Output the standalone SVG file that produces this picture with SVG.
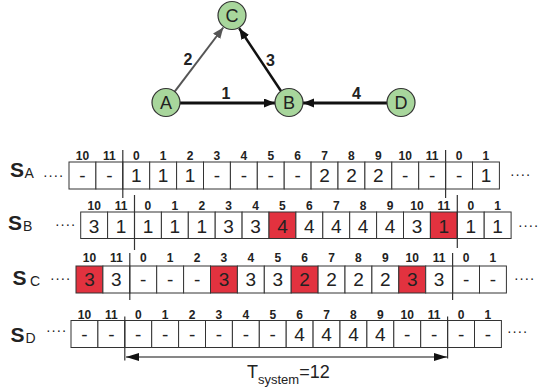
<svg xmlns="http://www.w3.org/2000/svg" width="540" height="387" viewBox="0 0 540 387">
<style>
text{font-family:"Liberation Sans",Arial,sans-serif;fill:#222}
.node{fill:#a8d69c;stroke:#333;stroke-width:1.2}
.nl{font-size:18px;text-anchor:middle}
.el{font-size:16px;font-weight:bold;text-anchor:middle}
.cell{fill:#fff;stroke:#333;stroke-width:1}
.red{fill:#e2323f}
.v{font-size:19px;text-anchor:middle}
.i{font-size:12px;font-weight:bold;text-anchor:middle}
.sep{stroke:#333;stroke-width:1.2}
.S{font-size:21px;font-weight:bold}
.sub{font-size:14px}
.dots{font-size:14px;letter-spacing:0.6px}
</style>
<defs>
<marker id="ah" markerUnits="userSpaceOnUse" markerWidth="12" markerHeight="10" refX="11" refY="4.5" orient="auto"><path d="M0,0 L11,4.5 L0,9 z" fill="#111"/></marker>
<marker id="ahg" markerUnits="userSpaceOnUse" markerWidth="12" markerHeight="10" refX="11" refY="4.5" orient="auto"><path d="M0,0 L11,4.5 L0,9 z" fill="#555"/></marker>
<marker id="dh" markerUnits="userSpaceOnUse" markerWidth="14" markerHeight="10" refX="13" refY="4" orient="auto-start-reverse"><path d="M0,0 L13,4 L0,8 z" fill="#111"/></marker>
</defs>
<g id="connectors">
<line x1="180" y1="103" x2="275" y2="103" stroke="#111" stroke-width="3" marker-end="url(#ah)"/>
<line x1="387" y1="103" x2="303" y2="103" stroke="#111" stroke-width="3" marker-end="url(#ah)"/>
<line x1="173.9" y1="92.7" x2="223.3" y2="27.5" stroke="#555" stroke-width="2" marker-end="url(#ahg)"/>
<line x1="281.8" y1="92.2" x2="239.2" y2="28.3" stroke="#111" stroke-width="2.5" marker-end="url(#ah)"/>
<text class="el" x="226" y="99">1</text>
<text class="el" x="188" y="65">2</text>
<text class="el" x="270.5" y="66">3</text>
<text class="el" x="356.5" y="99">4</text>
</g>
<g id="node-C"><circle class="node" cx="232" cy="15.5" r="14"/><text class="nl" x="232" y="22">C</text></g>
<g id="node-A"><circle class="node" cx="166" cy="102.5" r="14"/><text class="nl" x="166" y="109">A</text></g>
<g id="node-B"><circle class="node" cx="289" cy="102.5" r="14"/><text class="nl" x="289" y="109">B</text></g>
<g id="node-D"><circle class="node" cx="401" cy="102.5" r="14"/><text class="nl" x="401" y="109">D</text></g>

<g id="label-SA"><text class="S" x="10" y="177">S</text><text class="sub" x="24.5" y="178">A</text><text class="dots" x="43" y="180">····</text><text class="dots" x="510" y="179">····</text></g>
<g id="label-SB"><text class="S" x="8" y="230">S</text><text class="sub" x="23" y="231">B</text><text class="dots" x="55" y="229">····</text><text class="dots" x="518" y="230">····</text></g>
<g id="label-SC"><text class="S" x="12.5" y="285">S</text><text class="sub" x="30" y="286">C</text><text class="dots" x="50" y="283">····</text><text class="dots" x="514" y="283">····</text></g>
<g id="label-SD"><text class="S" x="10.5" y="342">S</text><text class="sub" x="25.5" y="343">D</text><text class="dots" x="46" y="335">····</text><text class="dots" x="507" y="336">····</text></g>

<g id="row-A" transform="translate(69,162)">
<rect class="cell" x="0" y="0" width="26.9" height="27"/><rect class="cell" x="26.9" y="0" width="26.9" height="27"/><rect class="cell" x="53.8" y="0" width="26.9" height="27"/><rect class="cell" x="80.7" y="0" width="26.9" height="27"/><rect class="cell" x="107.6" y="0" width="26.9" height="27"/><rect class="cell" x="134.5" y="0" width="26.9" height="27"/><rect class="cell" x="161.4" y="0" width="26.9" height="27"/><rect class="cell" x="188.3" y="0" width="26.9" height="27"/><rect class="cell" x="215.2" y="0" width="26.9" height="27"/><rect class="cell" x="242.1" y="0" width="26.9" height="27"/><rect class="cell" x="269" y="0" width="26.9" height="27"/><rect class="cell" x="295.9" y="0" width="26.9" height="27"/><rect class="cell" x="322.8" y="0" width="26.9" height="27"/><rect class="cell" x="349.7" y="0" width="26.9" height="27"/><rect class="cell" x="376.6" y="0" width="26.9" height="27"/><rect class="cell" x="403.5" y="0" width="26.9" height="27"/>
<text class="v" x="13.45" y="20">-</text><text class="v" x="40.35" y="20">-</text><text class="v" x="67.25" y="20">1</text><text class="v" x="94.15" y="20">1</text><text class="v" x="121.05" y="20">1</text><text class="v" x="147.95" y="20">-</text><text class="v" x="174.85" y="20">-</text><text class="v" x="201.75" y="20">-</text><text class="v" x="228.65" y="20">-</text><text class="v" x="255.55" y="20">2</text><text class="v" x="282.45" y="20">2</text><text class="v" x="309.35" y="20">2</text><text class="v" x="336.25" y="20">-</text><text class="v" x="363.15" y="20">-</text><text class="v" x="390.05" y="20">-</text><text class="v" x="416.95" y="20">1</text>
<text class="i" x="13.45" y="-2">10</text><text class="i" x="40.35" y="-2">11</text><text class="i" x="67.25" y="-2">0</text><text class="i" x="94.15" y="-2">1</text><text class="i" x="121.05" y="-2">2</text><text class="i" x="147.95" y="-2">3</text><text class="i" x="174.85" y="-2">4</text><text class="i" x="201.75" y="-2">5</text><text class="i" x="228.65" y="-2">6</text><text class="i" x="255.55" y="-2">7</text><text class="i" x="282.45" y="-2">8</text><text class="i" x="309.35" y="-2">9</text><text class="i" x="336.25" y="-2">10</text><text class="i" x="363.15" y="-2">11</text><text class="i" x="390.05" y="-2">0</text><text class="i" x="416.95" y="-2">1</text>
<line class="sep" x1="53.8" y1="-12" x2="53.8" y2="36"/><line class="sep" x1="376.6" y1="-12" x2="376.6" y2="36"/>
</g>

<g id="row-B" transform="translate(80.7,212)">
<rect class="cell" x="0" y="0" width="26.9" height="26.5"/><rect class="cell" x="26.9" y="0" width="26.9" height="26.5"/><rect class="cell" x="53.8" y="0" width="26.9" height="26.5"/><rect class="cell" x="80.7" y="0" width="26.9" height="26.5"/><rect class="cell" x="107.6" y="0" width="26.9" height="26.5"/><rect class="cell" x="134.5" y="0" width="26.9" height="26.5"/><rect class="cell" x="161.4" y="0" width="26.9" height="26.5"/><rect class="cell red" x="188.3" y="0" width="26.9" height="26.5"/><rect class="cell" x="215.2" y="0" width="26.9" height="26.5"/><rect class="cell" x="242.1" y="0" width="26.9" height="26.5"/><rect class="cell" x="269" y="0" width="26.9" height="26.5"/><rect class="cell" x="295.9" y="0" width="26.9" height="26.5"/><rect class="cell" x="322.8" y="0" width="26.9" height="26.5"/><rect class="cell red" x="349.7" y="0" width="26.9" height="26.5"/><rect class="cell" x="376.6" y="0" width="26.9" height="26.5"/><rect class="cell" x="403.5" y="0" width="26.9" height="26.5"/>
<text class="v" x="13.45" y="20.5">3</text><text class="v" x="40.35" y="20.5">1</text><text class="v" x="67.25" y="20.5">1</text><text class="v" x="94.15" y="20.5">1</text><text class="v" x="121.05" y="20.5">1</text><text class="v" x="147.95" y="20.5">3</text><text class="v" x="174.85" y="20.5">3</text><text class="v" x="201.75" y="20.5">4</text><text class="v" x="228.65" y="20.5">4</text><text class="v" x="255.55" y="20.5">4</text><text class="v" x="282.45" y="20.5">4</text><text class="v" x="309.35" y="20.5">4</text><text class="v" x="336.25" y="20.5">3</text><text class="v" x="363.15" y="20.5">1</text><text class="v" x="390.05" y="20.5">1</text><text class="v" x="416.95" y="20.5">1</text>
<text class="i" x="13.45" y="-2">10</text><text class="i" x="40.35" y="-2">11</text><text class="i" x="67.25" y="-2">0</text><text class="i" x="94.15" y="-2">1</text><text class="i" x="121.05" y="-2">2</text><text class="i" x="147.95" y="-2">3</text><text class="i" x="174.85" y="-2">4</text><text class="i" x="201.75" y="-2">5</text><text class="i" x="228.65" y="-2">6</text><text class="i" x="255.55" y="-2">7</text><text class="i" x="282.45" y="-2">8</text><text class="i" x="309.35" y="-2">9</text><text class="i" x="336.25" y="-2">10</text><text class="i" x="363.15" y="-2">11</text><text class="i" x="390.05" y="-2">0</text><text class="i" x="416.95" y="-2">1</text>
<line class="sep" x1="53.8" y1="-17" x2="53.8" y2="38"/><line class="sep" x1="376.6" y1="-17" x2="376.6" y2="36"/>
</g>

<g id="row-C" transform="translate(76,266)">
<rect class="cell red" x="0" y="0" width="26.9" height="27"/><rect class="cell" x="26.9" y="0" width="26.9" height="27"/><rect class="cell" x="53.8" y="0" width="26.9" height="27"/><rect class="cell" x="80.7" y="0" width="26.9" height="27"/><rect class="cell" x="107.6" y="0" width="26.9" height="27"/><rect class="cell red" x="134.5" y="0" width="26.9" height="27"/><rect class="cell" x="161.4" y="0" width="26.9" height="27"/><rect class="cell" x="188.3" y="0" width="26.9" height="27"/><rect class="cell red" x="215.2" y="0" width="26.9" height="27"/><rect class="cell" x="242.1" y="0" width="26.9" height="27"/><rect class="cell" x="269" y="0" width="26.9" height="27"/><rect class="cell" x="295.9" y="0" width="26.9" height="27"/><rect class="cell red" x="322.8" y="0" width="26.9" height="27"/><rect class="cell" x="349.7" y="0" width="26.9" height="27"/><rect class="cell" x="376.6" y="0" width="26.9" height="27"/><rect class="cell" x="403.5" y="0" width="26.9" height="27"/>
<text class="v" x="13.45" y="20">3</text><text class="v" x="40.35" y="20">3</text><text class="v" x="67.25" y="20">-</text><text class="v" x="94.15" y="20">-</text><text class="v" x="121.05" y="20">-</text><text class="v" x="147.95" y="20">3</text><text class="v" x="174.85" y="20">3</text><text class="v" x="201.75" y="20">3</text><text class="v" x="228.65" y="20">2</text><text class="v" x="255.55" y="20">2</text><text class="v" x="282.45" y="20">2</text><text class="v" x="309.35" y="20">2</text><text class="v" x="336.25" y="20">3</text><text class="v" x="363.15" y="20">3</text><text class="v" x="390.05" y="20">-</text><text class="v" x="416.95" y="20">-</text>
<text class="i" x="13.45" y="-4">10</text><text class="i" x="40.35" y="-4">11</text><text class="i" x="67.25" y="-4">0</text><text class="i" x="94.15" y="-4">1</text><text class="i" x="121.05" y="-4">2</text><text class="i" x="147.95" y="-4">3</text><text class="i" x="174.85" y="-4">4</text><text class="i" x="201.75" y="-4">5</text><text class="i" x="228.65" y="-4">6</text><text class="i" x="255.55" y="-4">7</text><text class="i" x="282.45" y="-4">8</text><text class="i" x="309.35" y="-4">9</text><text class="i" x="336.25" y="-4">10</text><text class="i" x="363.15" y="-4">11</text><text class="i" x="390.05" y="-4">0</text><text class="i" x="416.95" y="-4">1</text>
<line class="sep" x1="53.8" y1="-13" x2="53.8" y2="34"/><line class="sep" x1="376.6" y1="-13" x2="376.6" y2="34"/>
</g>

<g id="row-D" transform="translate(71,320.5)">
<rect class="cell" x="0" y="0" width="26.9" height="27"/><rect class="cell" x="26.9" y="0" width="26.9" height="27"/><rect class="cell" x="53.8" y="0" width="26.9" height="27"/><rect class="cell" x="80.7" y="0" width="26.9" height="27"/><rect class="cell" x="107.6" y="0" width="26.9" height="27"/><rect class="cell" x="134.5" y="0" width="26.9" height="27"/><rect class="cell" x="161.4" y="0" width="26.9" height="27"/><rect class="cell" x="188.3" y="0" width="26.9" height="27"/><rect class="cell" x="215.2" y="0" width="26.9" height="27"/><rect class="cell" x="242.1" y="0" width="26.9" height="27"/><rect class="cell" x="269" y="0" width="26.9" height="27"/><rect class="cell" x="295.9" y="0" width="26.9" height="27"/><rect class="cell" x="322.8" y="0" width="26.9" height="27"/><rect class="cell" x="349.7" y="0" width="26.9" height="27"/><rect class="cell" x="376.6" y="0" width="26.9" height="27"/><rect class="cell" x="403.5" y="0" width="26.9" height="27"/>
<text class="v" x="13.45" y="20">-</text><text class="v" x="40.35" y="20">-</text><text class="v" x="67.25" y="20">-</text><text class="v" x="94.15" y="20">-</text><text class="v" x="121.05" y="20">-</text><text class="v" x="147.95" y="20">-</text><text class="v" x="174.85" y="20">-</text><text class="v" x="201.75" y="20">-</text><text class="v" x="228.65" y="20">4</text><text class="v" x="255.55" y="20">4</text><text class="v" x="282.45" y="20">4</text><text class="v" x="309.35" y="20">4</text><text class="v" x="336.25" y="20">-</text><text class="v" x="363.15" y="20">-</text><text class="v" x="390.05" y="20">-</text><text class="v" x="416.95" y="20">-</text>
<text class="i" x="13.45" y="-2">10</text><text class="i" x="40.35" y="-2">11</text><text class="i" x="67.25" y="-2">0</text><text class="i" x="94.15" y="-2">1</text><text class="i" x="121.05" y="-2">2</text><text class="i" x="147.95" y="-2">3</text><text class="i" x="174.85" y="-2">4</text><text class="i" x="201.75" y="-2">5</text><text class="i" x="228.65" y="-2">6</text><text class="i" x="255.55" y="-2">7</text><text class="i" x="282.45" y="-2">8</text><text class="i" x="309.35" y="-2">9</text><text class="i" x="336.25" y="-2">10</text><text class="i" x="363.15" y="-2">11</text><text class="i" x="390.05" y="-2">0</text><text class="i" x="416.95" y="-2">1</text>
<line class="sep" x1="53.8" y1="-4" x2="53.8" y2="40"/><line class="sep" x1="376.6" y1="-4" x2="376.6" y2="38"/>
</g>

<g id="period">
<line x1="126" y1="357" x2="447" y2="357" stroke="#111" stroke-width="1.2" marker-start="url(#dh)" marker-end="url(#dh)"/>
<text x="247" y="378" font-size="18">T<tspan font-size="13" dy="6">system</tspan><tspan dy="-6" font-size="18">=12</tspan></text>
</g>
</svg>
